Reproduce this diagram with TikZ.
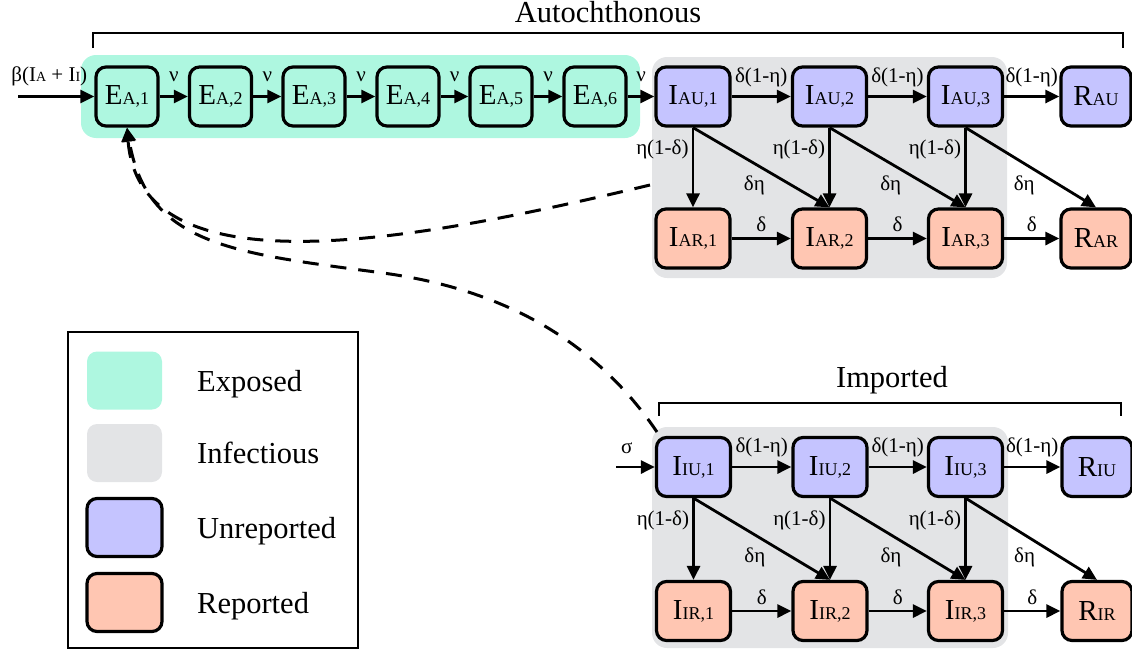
\documentclass[tikz,border=0pt]{standalone}
\usepackage{fontspec}
\setmainfont{Liberation Serif}
\usetikzlibrary{arrows.meta}
\definecolor{expc}{RGB}{174,247,224}
\definecolor{infc}{RGB}{227,228,230}
\definecolor{unrc}{RGB}{197,196,255}
\definecolor{repc}{RGB}{255,198,178}
\newcommand\nsb[1]{{\fontsize{18}{18}\selectfont #1}}
\newcommand\lsb[1]{{\fontsize{14}{14}\selectfont #1}}
\begin{document}
\begin{tikzpicture}[x=1pt,y=-1pt,
  cbox/.style={draw,line width=3.2pt,rounded corners=10pt,inner sep=0pt,
    minimum height=59pt,font=\fontsize{29}{29}\selectfont},
  ebox/.style={cbox,fill=expc,minimum width=62pt},
  ubox/.style={cbox,fill=unrc,minimum width=74pt},
  rbox/.style={cbox,fill=repc,minimum width=74pt},
  uend/.style={cbox,fill=unrc,minimum width=70pt},
  rend/.style={cbox,fill=repc,minimum width=70pt},
  flow/.style={line width=2.8pt,-{Triangle[length=14pt,width=13pt]}},
  dflow/.style={line width=3pt,dash pattern=on 16pt off 12pt,-{Triangle[length=14pt,width=13pt]}},
  lab/.style={inner sep=0pt,font=\fontsize{21}{21}\selectfont},
  hl/.style={lab,midway,yshift=19.5pt},
  dl/.style={lab,midway,yshift=14pt},
  vl/.style={lab,pos=.27,anchor=east,xshift=-3pt},
  gl/.style={lab,pos=.45,yshift=-22pt},
  title/.style={inner sep=0pt,anchor=base,font=\fontsize{30.5}{30.5}\selectfont},
  legtext/.style={inner sep=0pt,anchor=base west,font=\fontsize{30.5}{30.5}\selectfont},
  swatch/.style={rounded corners=10pt,inner sep=0pt,minimum width=75pt,minimum height=58pt},
  brk/.style={line width=1.8pt}
]
\useasboundingbox (0,0) rectangle (1132,653);
% backgrounds
\fill[expc,rounded corners=15pt] (81,55) rectangle (640,138);
\fill[infc,rounded corners=15pt] (652,57) rectangle (1007,278);
\fill[infc,rounded corners=15pt] (652,427) rectangle (1008,648);
% titles and brackets
\node[title] (tA) at (608,22) {Autochthonous};
\draw[brk] (93,48) |- (1123,33) -- (1123,48);
\node[title] (tI) at (892,387) {Imported};
\draw[brk] (659,416) |- (1121,403) -- (1121,416);
% exposed chain
\node[ebox] (E1) at (127,96.5) {E\nsb{A,1}};
\node[ebox] (E2) at (220.5,96.5) {E\nsb{A,2}};
\node[ebox] (E3) at (314,96.5) {E\nsb{A,3}};
\node[ebox] (E4) at (408,96.5) {E\nsb{A,4}};
\node[ebox] (E5) at (501,96.5) {E\nsb{A,5}};
\node[ebox] (E6) at (595,96.5) {E\nsb{A,6}};
% autochthonous infectious
\node[ubox] (AU1) at (693,96.5) {I\nsb{AU,1}};
\node[ubox] (AU2) at (829.5,96.5) {I\nsb{AU,2}};
\node[ubox] (AU3) at (965.5,96.5) {I\nsb{AU,3}};
\node[uend] (RAU) at (1096,96.5) {R\nsb{AU}};
\node[rbox] (AR1) at (693,238.5) {I\nsb{AR,1}};
\node[rbox] (AR2) at (829.5,238.5) {I\nsb{AR,2}};
\node[rbox] (AR3) at (965.5,238.5) {I\nsb{AR,3}};
\node[rend] (RAR) at (1096,238.5) {R\nsb{AR}};
% imported
\node[ubox] (IU1) at (693.5,467) {I\nsb{IU,1}};
\node[ubox] (IU2) at (830,467) {I\nsb{IU,2}};
\node[ubox] (IU3) at (965.5,467) {I\nsb{IU,3}};
\node[uend] (RIU) at (1097,467) {R\nsb{IU}};
\node[rbox] (IR1) at (693.5,611) {I\nsb{IR,1}};
\node[rbox] (IR2) at (830,611) {I\nsb{IR,2}};
\node[rbox] (IR3) at (965.5,611) {I\nsb{IR,3}};
\node[rend] (RIR) at (1097,611) {R\nsb{IR}};
% inputs
\coordinate (inA) at (18,96.5);
\coordinate (inI) at (616,467);
\draw[flow] (inA) -- (E1) node[lab,pos=.41,yshift=20pt] {β(I\lsb{A} + I\lsb{I})};
\draw[flow] (inI) -- (IU1) node[lab,pos=.28,yshift=19pt] {σ};
% exposed flows
\draw[flow] (E1) -- (E2) node[hl] {ν};
\draw[flow] (E2) -- (E3) node[hl] {ν};
\draw[flow] (E3) -- (E4) node[hl] {ν};
\draw[flow] (E4) -- (E5) node[hl] {ν};
\draw[flow] (E5) -- (E6) node[hl] {ν};
\draw[flow] (E6) -- (AU1) node[hl] {ν};
% autochthonous flows
\draw[flow] (AU1) -- (AU2) node[hl] {δ(1-η)};
\draw[flow] (AU2) -- (AU3) node[hl] {δ(1-η)};
\draw[flow] (AU3) -- (RAU) node[hl] {δ(1-η)};
\draw[flow] (AR1) -- (AR2) node[dl] {δ};
\draw[flow] (AR2) -- (AR3) node[dl] {δ};
\draw[flow] (AR3) -- (RAR) node[dl] {δ};
\draw[flow] (AU1.south) -- (AR1.north) node[vl] {η(1-δ)};
\draw[flow] (AU2.south) -- (AR2.north) node[vl] {η(1-δ)};
\draw[flow] (AU3.south) -- (AR3.north) node[vl] {η(1-δ)};
\draw[flow] (AU1.south) -- (AR2.north) node[gl] {δη};
\draw[flow] (AU2.south) -- (AR3.north) node[gl] {δη};
\draw[flow] (AU3.south) -- (RAR.north) node[gl] {δη};
% imported flows
\draw[flow] (IU1) -- (IU2) node[hl] {δ(1-η)};
\draw[flow] (IU2) -- (IU3) node[hl] {δ(1-η)};
\draw[flow] (IU3) -- (RIU) node[hl] {δ(1-η)};
\draw[flow] (IR1) -- (IR2) node[dl] {δ};
\draw[flow] (IR2) -- (IR3) node[dl] {δ};
\draw[flow] (IR3) -- (RIR) node[dl] {δ};
\draw[flow] (IU1.south) -- (IR1.north) node[vl] {η(1-δ)};
\draw[flow] (IU2.south) -- (IR2.north) node[vl] {η(1-δ)};
\draw[flow] (IU3.south) -- (IR3.north) node[vl] {η(1-δ)};
\draw[flow] (IU1.south) -- (IR2.north) node[gl] {δη};
\draw[flow] (IU2.south) -- (IR3.north) node[gl] {δη};
\draw[flow] (IU3.south) -- (RIR.north) node[gl] {δη};
% dashed infection feedback
\coordinate (cA) at (650,185);
\coordinate (cI) at (657,432);
\coordinate (cM) at (383,273);
\draw[dflow] (cA) .. controls (400,245) and (140,290) .. (E1.south);
\draw[dflow] (cI) .. controls (588,330) and (487,287) .. (cM)
  .. controls (234,253) and (147,246) .. (E1.south);
% legend
\draw[brk] (68,332) rectangle (358,648);
\node[swatch,fill=expc] (sE) at (124.5,380.5) {};
\node[swatch,fill=infc] (sI) at (124.5,453) {};
\node[swatch,fill=unrc,draw,line width=3.2pt] (sU) at (124.5,527.5) {};
\node[swatch,fill=repc,draw,line width=3.2pt] (sR) at (124.5,602.5) {};
\node[legtext] (lE) at (197,391.5) {Exposed};
\node[legtext] (lI) at (197,463.5) {Infectious};
\node[legtext] (lU) at (197,538) {Unreported};
\node[legtext] (lR) at (197,613) {Reported};
\end{tikzpicture}
\end{document}
